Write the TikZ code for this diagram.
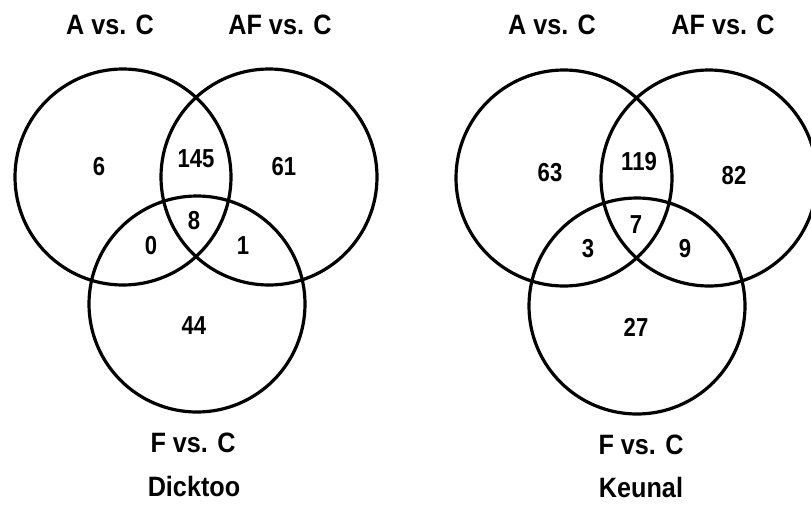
\documentclass[tikz,border=0pt]{standalone}
\usepackage{fontspec}
\setmainfont{Liberation Sans}[FakeStretch=0.9]
\newfontfamily\countfont{Liberation Sans}[FakeStretch=0.85]
\begin{document}
\begin{tikzpicture}[x=1pt,y=-1pt,
  setring/.style={draw=black,line width=3.2pt,circle,minimum size=216pt,inner sep=0pt},
  count/.style={inner sep=0pt,font=\countfont\bfseries\fontsize{26}{28}\selectfont},
  setname/.style={inner sep=0pt,font=\bfseries\fontsize{28}{30}\selectfont}]
\useasboundingbox (0,0) rectangle (811,504);
\clip (0,0) rectangle (811,504);

% ---- Dicktoo ----
\node[setring] (lA)  at (123,177) {};
\node[setring] (lAF) at (269,177) {};
\node[setring] (lF)  at (197,304) {};
\node[setname] (lnA)  at (110,25) {A vs. C};
\node[setname] (lnAF) at (280,25) {AF vs. C};
\node[setname] (lnF)  at (193,443) {F vs. C};
\node[setname] (ltitle) at (194,486) {Dicktoo};
\node[count] (l1) at (99,167)  {6};
\node[count] (l2) at (196,159) {145};
\node[count] (l3) at (284,167) {61};
\node[count] (l4) at (194,221) {8};
\node[count] (l5) at (151,246) {0};
\node[count] (l6) at (243,246) {1};
\node[count] (l7) at (194,326) {44};

% ---- Keunal ----
\node[setring] (rA)  at (564,178) {};
\node[setring] (rAF) at (709,178) {};
\node[setring] (rF)  at (637,306) {};
\node[setname] (rnA)  at (552,25) {A vs. C};
\node[setname] (rnAF) at (723,25) {AF vs. C};
\node[setname] (rnF)  at (641,445) {F vs. C};
\node[setname] (rtitle) at (641,487) {Keunal};
\node[count] (r1) at (550,173) {63};
\node[count] (r2) at (639,162) {119};
\node[count] (r3) at (734,176) {82};
\node[count] (r4) at (636,225) {7};
\node[count] (r5) at (588,249) {3};
\node[count] (r6) at (685,249) {9};
\node[count] (r7) at (636,327) {27};
\end{tikzpicture}
\end{document}
